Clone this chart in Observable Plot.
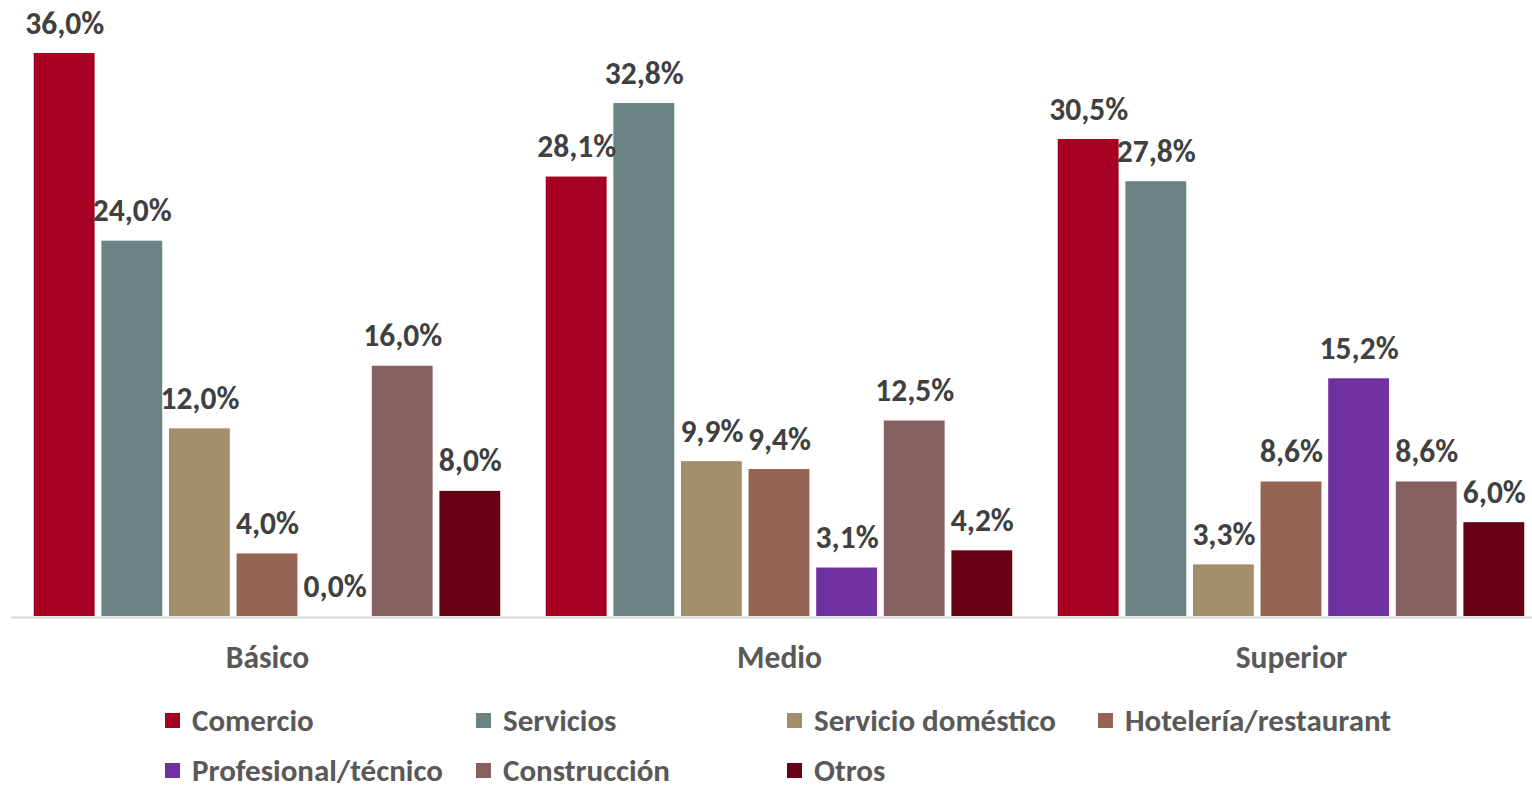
<!DOCTYPE html>
<html>
<head>
<meta charset="utf-8">
<script src="https://cdn.jsdelivr.net/npm/d3@7"></script>
<script src="https://cdn.jsdelivr.net/npm/@observablehq/plot@0.6"></script>
<style>
  html, body { margin: 0; padding: 0; background: #fff; }
  body { width: 1532px; height: 789px; overflow: hidden; font-family: Carlito, "Open Sans", sans-serif; }
  #chart svg { display: block; }
  #legend { position: relative; display: grid; grid-template-columns: repeat(4, 311px); margin-left: 165px; margin-top: 16px; row-gap: 22px; }
  .item { display: flex; align-items: center; height: 28px; line-height: 28px; font-size: 31px; font-weight: bold; color: #595959; white-space: nowrap; }
  .sw { width: 15px; height: 15px; margin-right: 12px; flex: none; }
</style>
</head>
<body>
<div id="chart"></div>
<div id="legend"></div>
<script>
const groups = ["Básico", "Medio", "Superior"];
const categories = ["Comercio", "Servicios", "Servicio doméstico", "Hotelería/restaurant", "Profesional/técnico", "Construcción", "Otros"];
const colors = ["#A50021", "#6B8383", "#A38D6B", "#966452", "#7030A0", "#86605E", "#650016"];
const basico = [36.0, 24.0, 12.0, 4.0, 0.0, 16.0, 8.0];
const medio = [28.1, 32.8, 9.9, 9.4, 3.1, 12.5, 4.2];
const superior = [30.5, 27.8, 3.3, 8.6, 15.2, 8.6, 6.0];

const series = [basico, medio, superior];
const data = [];
groups.forEach((g, gi) => categories.forEach((c, ci) => data.push({group: g, cat: c, value: series[gi][ci]})));

const fmt = v => v.toFixed(1).replace(".", ",") + "%";

const height = 690;
const chart = Plot.plot({
  width: 1532,
  height,
  marginLeft: 27,
  marginRight: 1,
  marginTop: 53,
  marginBottom: height - 616,
  style: { fontFamily: 'Carlito, "Open Sans", sans-serif', background: "#fff" },
  fx: { domain: groups, paddingInner: 0.0625, paddingOuter: 0, round: false },
  x: { domain: categories, padding: 0.1, round: false, axis: null },
  y: { domain: [0, 36], axis: null },
  color: { domain: categories, range: colors },
  marks: [
    Plot.barY(data, { fx: "group", x: "cat", y: "value", fill: "cat" }),
    Plot.ruleY([0], { stroke: "#d9d9d9", strokeWidth: 2, dy: 1, insetLeft: -16, insetRight: -16 }),
    Plot.text(data, { fx: "group", x: "cat", y: "value", text: d => fmt(d.value), dy: -30, fontSize: 31.5, fontWeight: "bold", fill: "#404040" }),
    Plot.axisFx({ anchor: "bottom", tickSize: 0, tickPadding: 29, fontSize: 31.5, fontWeight: "bold", fill: "#595959", label: null })
  ]
});
document.getElementById("chart").appendChild(chart);

const legend = document.getElementById("legend");
categories.forEach((c, i) => {
  const it = document.createElement("div");
  it.className = "item";
  const sw = document.createElement("span");
  sw.className = "sw";
  sw.style.background = colors[i];
  it.appendChild(sw);
  it.appendChild(document.createTextNode(c));
  legend.appendChild(it);
});
</script>
</body>
</html>
